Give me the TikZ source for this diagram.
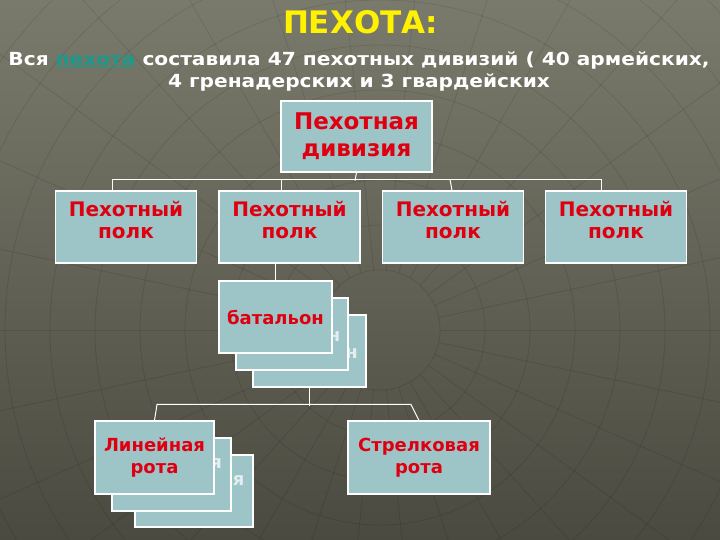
\documentclass[tikz,border=0pt]{standalone}
\usepackage{fontspec}
\newfontfamily\djv{DejaVu Sans}
\newfontfamily\djvwide{DejaVu Sans}[FakeStretch=1.12]
\definecolor{bgtop}{HTML}{7A7A6C}
\definecolor{bgbot}{HTML}{4A4A40}
\definecolor{boxfill}{HTML}{9DC4C6}
\definecolor{boxred}{HTML}{DE0010}
\definecolor{ghost}{HTML}{E4EEEF}
\definecolor{linkteal}{HTML}{1A9A8A}
\begin{document}
\begin{tikzpicture}[x=1pt,y=-1pt,
  box/.style={draw=white,line width=1.2pt,fill=boxfill,inner sep=0pt,align=center,text=boxred},
  divbox/.style={box,minimum width=151pt,minimum height=71pt,font=\djv\bfseries\fontsize{23}{27}\selectfont},
  polkbox/.style={box,minimum width=141pt,minimum height=72pt,text height=37pt,text depth=15pt,font=\djv\bfseries\fontsize{20}{22}\selectfont},
  smallbox/.style={box,font=\djv\bfseries\fontsize{18}{22}\selectfont},
  ghostbox/.style={smallbox,text=ghost},
  link/.style={draw=white,line width=1pt},
  gridline/.style={draw=black,opacity=0.1,line width=0.8pt}]
\useasboundingbox (0,0) rectangle (720,540);
\shade[top color=bgtop,bottom color=bgbot] (0,0) rectangle (720,540);
\begin{scope}
\clip (0,0) rectangle (720,540);
\foreach \r in {60,105,...,600}
  \draw[gridline] (380,330) circle (\r pt);
\foreach \a in {0,12,...,348}
  \draw[gridline] (380,330) ++(\a:60pt) -- ++(\a:700pt);
\end{scope}
% heading
\node[anchor=base,text=yellow,font=\djv\bfseries\fontsize{31}{33}\selectfont] (title) at (360.5,34) {ПЕХОТА:};
\node[anchor=base,text=white,font=\djvwide\bfseries\fontsize{18}{22}\selectfont] (sub1) at (359,66)
  {Вся \textcolor{linkteal}{\underline{пехота}} составила 47 пехотных дивизий ( 40 армейских,};
\node[anchor=base,text=white,font=\djvwide\bfseries\fontsize{18}{22}\selectfont] (sub2) at (359,88)
  {4 гренадерских и 3 гвардейских};
% division and regiments
\node[divbox] (div) at (356.5,136.5) {Пехотная\\дивизия};
\node[polkbox] (p1) at (126,227) {Пехотный\\полк};
\node[polkbox] (p2) at (289.5,227) {Пехотный\\полк};
\node[polkbox] (p3) at (453,227) {Пехотный\\полк};
\node[polkbox] (p4) at (616,227) {Пехотный\\полк};
\draw[link] (div.south) -- ++(-1.5,8);
\draw[link] ([xshift=-14pt]p1.north) -- ++(0,-11) -| ([xshift=-15pt]p4.north);
\draw[link] ([xshift=-8.5pt]p2.north) -- ++(0,-11);
\draw[link] ([xshift=-1pt]p3.north) -- ++(-2,-11);
% battalions
\node[ghostbox,minimum width=113pt,minimum height=72pt] (bat3) at (309.5,351) {батальон};
\node[ghostbox,minimum width=112pt,minimum height=72pt] (bat2) at (292,334) {батальон};
\node[smallbox,minimum width=113pt,minimum height=72pt] (bat1) at (275.5,317) {батальон};
\draw[link] (bat1.north |- p2.south) -- (bat1.north);
% companies
\node[ghostbox,minimum width=118pt,minimum height=72pt] (lin3) at (194,491) {Линейная\\рота};
\node[ghostbox,minimum width=119pt,minimum height=73pt] (lin2) at (171.5,474.5) {Линейная\\рота};
\node[smallbox,minimum width=119pt,minimum height=73pt] (lin1) at (154.5,457.5) {Линейная\\рота};
\node[smallbox,minimum width=142pt,minimum height=73pt] (str) at (419,457.5) {Стрелковая\\рота};
\draw[link] (bat3.south) -- ++(0,18);
\draw[link] (lin1.north) -- ++(2.5,-16) -- ++(254,0) -- (str.north);
\end{tikzpicture}
\end{document}
